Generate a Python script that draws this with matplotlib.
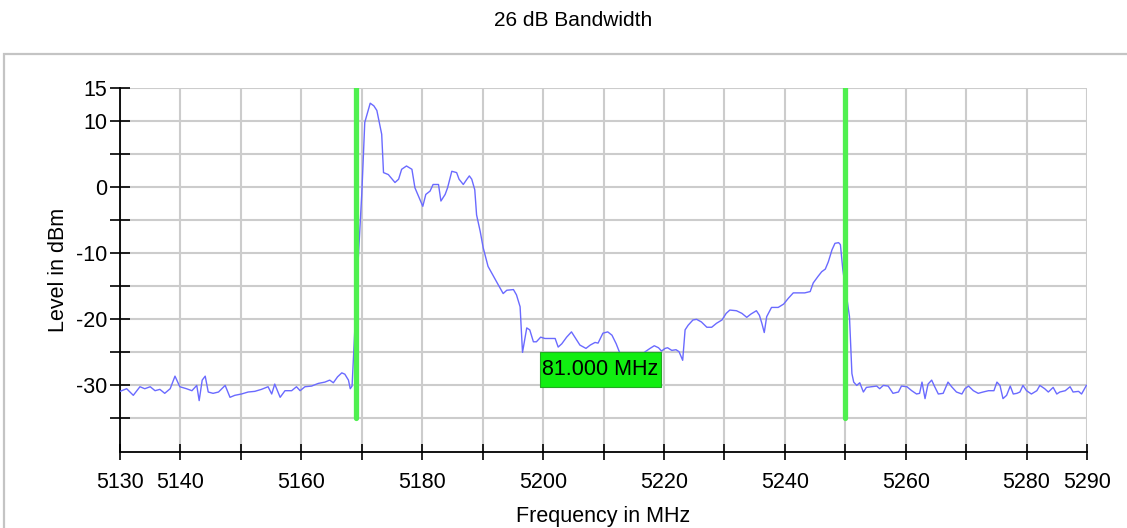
import matplotlib.pyplot as plt
from matplotlib.patches import Rectangle

plt.rcParams['font.family'] = ['Liberation Sans', 'DejaVu Sans']
plt.rcParams['axes.unicode_minus'] = False

# Spectrum trace
freq = [5130.0, 5131.1, 5132.2, 5133.3, 5134.1, 5135.0, 5135.8, 5136.6, 5137.4, 5138.3,
        5139.1, 5139.9, 5141.0, 5141.9, 5142.7, 5143.1, 5143.6, 5144.1, 5144.6, 5145.4,
        5146.3, 5147.4, 5148.2, 5149.0, 5150.1, 5151.2, 5152.3, 5153.4, 5154.5, 5155.1,
        5155.6, 5156.5, 5157.3, 5158.4, 5159.2, 5159.8, 5160.6, 5161.7, 5162.8, 5163.9,
        5164.7, 5165.3, 5166.0, 5166.7, 5167.2, 5167.8, 5168.1, 5168.4,
        5169.4, 5170.0, 5170.5, 5171.4, 5172.0, 5172.5, 5173.3, 5173.6, 5174.4, 5175.5,
        5176.1, 5176.6, 5177.4, 5178.3, 5178.8, 5179.4, 5180.1, 5180.6, 5181.3, 5181.8,
        5182.7, 5183.1, 5183.8, 5184.2, 5184.9, 5185.7, 5186.1, 5186.8, 5187.4, 5187.8,
        5188.2, 5188.7, 5189.0, 5189.6, 5190.1, 5190.9, 5191.8, 5192.6, 5193.4, 5194.0,
        5195.1, 5195.6, 5196.2, 5196.6, 5197.3, 5197.8, 5198.4, 5198.9, 5199.6, 5200.3,
        5201.2, 5202.0, 5202.5, 5203.1, 5203.9, 5204.7, 5205.6, 5206.1, 5207.1, 5207.8,
        5208.6, 5209.1, 5209.9, 5210.7, 5211.4, 5212.1, 5212.7, 5214.0, 5215.2, 5216.0,
        5216.9, 5217.7, 5218.4, 5219.1, 5219.6, 5220.2, 5220.6, 5221.3, 5222.0, 5222.5,
        5223.1, 5223.5, 5224.0, 5224.8, 5225.4, 5226.2, 5227.1, 5227.9, 5228.7, 5229.6,
        5230.3, 5230.9, 5232.0, 5232.9, 5233.7, 5234.4, 5235.3, 5235.8, 5236.2, 5236.6,
        5237.0, 5237.8, 5238.9, 5239.8, 5240.6, 5241.4, 5242.2, 5243.3, 5244.2, 5244.7,
        5245.5, 5246.1, 5246.7, 5247.2, 5247.8, 5248.3, 5248.9, 5249.2, 5249.6, 5250.7,
        5251.1,
        5251.4, 5251.9, 5252.4, 5253.0, 5253.5, 5254.4, 5255.2, 5255.7, 5256.3, 5257.1,
        5257.9, 5258.8, 5259.3, 5260.2, 5261.0, 5261.8, 5262.3, 5262.7, 5263.2, 5263.7,
        5264.3, 5264.8, 5265.4, 5266.2, 5267.0, 5267.6, 5268.4, 5269.3, 5269.8, 5270.4,
        5271.2, 5272.0, 5272.8, 5273.7, 5274.6, 5275.1, 5275.6, 5276.1, 5276.7, 5277.3,
        5277.8, 5278.4, 5278.9, 5279.4, 5280.0, 5280.8, 5281.7, 5282.2, 5283.0, 5283.6,
        5284.4, 5285.0, 5285.5, 5286.4, 5287.2, 5287.7, 5288.6, 5289.1, 5289.9]
level = [-30.9, -30.5, -31.5, -30.2, -30.5, -30.2, -30.8, -30.6, -31.2, -30.5,
         -28.6, -30.2, -30.5, -30.8, -30.0, -32.3, -29.2, -28.6, -31.0, -31.2,
         -31.0, -30.0, -31.8, -31.5, -31.3, -31.0, -30.9, -30.6, -30.2, -31.3,
         -29.8, -31.8, -30.8, -30.8, -30.2, -30.8, -30.2, -30.1, -29.7, -29.5,
         -29.2, -29.6, -28.7, -28.1, -28.3, -29.2, -30.5, -30.1,
         -11.2, -1.1, 9.8, 12.7, 12.3, 11.6, 8.0, 2.2, 1.9, 0.7,
         1.2, 2.7, 3.2, 2.7, -0.1, -1.4, -2.9, -1.1, -0.6, 0.4,
         0.4, -2.1, -1.1, -0.1, 2.4, 2.2, 1.2, 0.4, 1.2, 1.7,
         1.2, -0.4, -4.2, -6.7, -9.2, -12.0, -13.5, -14.8, -16.1, -15.6,
         -15.5, -16.3, -18.1, -25.0, -21.3, -21.6, -23.4, -23.4, -22.7, -22.9,
         -22.9, -22.9, -24.2, -23.7, -22.7, -21.9, -23.2, -23.9, -24.4, -23.9,
         -23.5, -23.6, -22.1, -21.9, -22.4, -23.7, -25.1, -25.6, -25.3, -25.7,
         -24.9, -24.4, -24.0, -24.3, -24.8, -24.4, -24.3, -24.7, -24.6, -24.9,
         -26.2, -21.6, -20.9, -20.1, -20.0, -20.4, -21.2, -21.2, -20.6, -20.1,
         -19.1, -18.6, -18.7, -19.1, -19.7, -19.2, -18.7, -19.4, -20.6, -22.0,
         -19.6, -18.2, -18.2, -17.7, -16.8, -16.0, -16.0, -16.0, -15.8, -14.5,
         -13.5, -12.8, -12.4, -11.3, -9.5, -8.5, -8.4, -8.7, -12.5, -19.6,
         -28.2,
         -29.5, -30.0, -29.6, -31.0, -30.3, -30.2, -30.1, -30.5, -30.0, -30.1,
         -31.2, -31.0, -30.1, -30.2, -30.8, -31.3, -31.2, -29.5, -32.0, -29.8,
         -29.2, -30.2, -31.3, -31.2, -29.5, -30.2, -31.0, -31.3, -30.5, -30.1,
         -30.8, -31.2, -31.0, -30.8, -30.8, -29.5, -30.0, -32.0, -31.5, -30.1,
         -31.3, -31.2, -31.0, -30.0, -30.8, -31.3, -30.8, -30.0, -30.5, -31.0,
         -30.3, -31.3, -31.0, -30.8, -30.2, -31.0, -30.9, -31.3, -30.0]

# 26 dB bandwidth markers
markers = [5169.0, 5250.0]
bw_text = '81.000 MHz'

x_ticks = list(range(5130, 5291, 10))
x_shown = [5130, 5140, 5160, 5180, 5200, 5220, 5240, 5260, 5280, 5290]
y_ticks = list(range(-35, 16, 5))
y_shown = [15, 10, 0, -10, -20, -30]

fig = plt.figure(figsize=(11.27, 5.28), dpi=100)
ax = fig.add_axes([120 / 1127, 1 - 451.5 / 528, 967 / 1127, 363.5 / 528])

# light frame around the chart panel
fig.patches.append(Rectangle((4 / 1127, -0.1), 1.2, 1.1 - 54 / 528, transform=fig.transFigure,
                             fill=False, edgecolor='#c4c4c4', linewidth=1.6))
fig.text(573 / 1127, 1 - 21 / 528, '26 dB Bandwidth', ha='center', va='center', fontsize=15)

ax.plot(freq, level, color='#6a6aff', linewidth=1.0, zorder=3)
ax.vlines(markers, -35, 15, color='#4ff04f', linewidth=3.8, zorder=4, capstyle='round')

mid = sum(markers) / 2
ax.add_patch(Rectangle((mid - 10, -30.3), 20, 5.3, facecolor='#11ee11',
                       edgecolor='#22aa22', linewidth=0.8, zorder=5))
ax.text(mid, -27.6, bw_text, ha='center', va='center', fontsize=15.5, zorder=6)

ax.set_xlim(5130, 5290)
ax.set_ylim(-40, 15)
ax.set_xticks(x_ticks)
ax.set_xticklabels([str(t) if t in x_shown else '' for t in x_ticks])
ax.set_yticks(y_ticks)
ax.set_yticklabels([str(t) if t in y_shown else '' for t in y_ticks])
ax.tick_params(axis='x', direction='inout', length=11, width=1.2, pad=9, labelsize=15.5)
ax.tick_params(axis='y', direction='inout', length=14, width=1.2, pad=2, labelsize=15.5)

ax.grid(True, color='#cccccc', linewidth=1.5)
ax.set_axisbelow(True)
for s in ['top', 'right']:
    ax.spines[s].set_visible(False)
for s in ['left', 'bottom']:
    ax.spines[s].set_linewidth(1.3)

ax.set_xlabel('Frequency in MHz', fontsize=15.5, labelpad=9.5)
ax.set_ylabel('Level in dBm', fontsize=15.5, labelpad=5)

fig.savefig('out.png', dpi=100)
